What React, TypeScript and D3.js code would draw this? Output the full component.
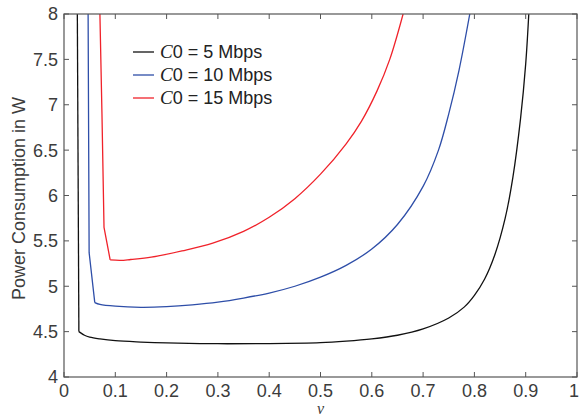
import React from "react";
import * as d3 from "d3";

const xTicks = [0, 0.1, 0.2, 0.3, 0.4, 0.5, 0.6, 0.7, 0.8, 0.9, 1];
const yTicks = [4, 4.5, 5, 5.5, 6, 6.5, 7, 7.5, 8];
const xTickLabels = ["0", "0.1", "0.2", "0.3", "0.4", "0.5", "0.6", "0.7", "0.8", "0.9", "1"];
const yTickLabels = ["4", "4.5", "5", "5.5", "6", "6.5", "7", "7.5", "8"];

const seriesNames = ["5 Mbps", "10 Mbps", "15 Mbps"];
const seriesColors = ["#111111", "#2e4ea8", "#f0222a"];

// steep left branch (drawn with straight segments) and smooth right branch
const blackSteep: [number, number][] = [[0.026, 8], [0.029, 4.5]];
const black: [number, number][] = [
  [0.029, 4.5], [0.04, 4.46], [0.05, 4.44], [0.07, 4.42], [0.1, 4.4],
  [0.15, 4.385], [0.2, 4.375], [0.3, 4.367], [0.4, 4.368], [0.5, 4.378], [0.55, 4.395],
  [0.6, 4.42], [0.65, 4.46], [0.7, 4.53], [0.75, 4.65], [0.78, 4.77], [0.8, 4.9],
  [0.82, 5.08], [0.84, 5.35], [0.86, 5.75], [0.875, 6.2], [0.89, 6.85], [0.9, 7.45],
  [0.906, 8],
];
const blueSteep: [number, number][] = [[0.047, 8], [0.049, 5.37], [0.06, 4.82]];
const blue: [number, number][] = [
  [0.06, 4.82], [0.07, 4.8], [0.1, 4.78], [0.15, 4.768],
  [0.2, 4.775], [0.25, 4.795], [0.3, 4.825], [0.35, 4.87], [0.4, 4.925], [0.45, 5.0],
  [0.5, 5.1], [0.55, 5.23], [0.6, 5.41], [0.65, 5.68], [0.7, 6.1], [0.73, 6.5],
  [0.75, 6.9], [0.77, 7.38], [0.791, 8],
];
const redSteep: [number, number][] = [[0.07, 8], [0.074, 6.9], [0.078, 5.65], [0.09, 5.29]];
const red: [number, number][] = [
  [0.09, 5.29], [0.11, 5.285], [0.13, 5.295],
  [0.17, 5.32], [0.23, 5.39], [0.29, 5.475], [0.35, 5.605], [0.4, 5.76], [0.45, 5.965],
  [0.5, 6.235], [0.55, 6.57], [0.58, 6.82], [0.61, 7.15], [0.635, 7.5], [0.661, 8],
];
const steepData = [blackSteep, blueSteep, redSteep];
const seriesData = [black, blue, red];

const W = 579;
const H = 418;
const M = { left: 64, right: 577, top: 14, bottom: 377 };

export default function App() {
  const x = d3.scaleLinear().domain([0, 1]).range([M.left, M.right]);
  const y = d3.scaleLinear().domain([4, 8]).range([M.bottom, M.top]);
  const smooth = d3
    .line<[number, number]>()
    .x((d) => x(d[0]))
    .y((d) => y(d[1]))
    .curve(d3.curveCatmullRom.alpha(0.5));
  const straight = d3
    .line<[number, number]>()
    .x((d) => x(d[0]))
    .y((d) => y(d[1]));

  const axisColor = "#555";
  const textColor = "#3c3c3c";
  const font = "'Liberation Sans', Arial, Helvetica, sans-serif";
  const tickLen = 5;

  return (
    <svg
      width={W}
      height={H}
      style={{ position: "absolute", left: 0, top: 0, background: "#fff" }}
    >
      <defs>
        <clipPath id="plotclip">
          <rect x={M.left} y={M.top} width={M.right - M.left} height={M.bottom - M.top} />
        </clipPath>
      </defs>
      <g clipPath="url(#plotclip)">
        {seriesData.map((s, i) => (
          <g key={i}>
            <path
              d={straight(steepData[i]) || ""}
              fill="none"
              stroke={seriesColors[i]}
              strokeWidth={1.3}
              strokeLinejoin="round"
            />
            <path
              d={smooth(s) || ""}
              fill="none"
              stroke={seriesColors[i]}
              strokeWidth={1.3}
              strokeLinejoin="round"
            />
          </g>
        ))}
      </g>
      <rect
        x={M.left}
        y={M.top}
        width={M.right - M.left}
        height={M.bottom - M.top}
        fill="none"
        stroke={axisColor}
        strokeWidth={1.2}
      />
      {xTicks.map((t, i) => (
        <g key={"x" + i}>
          <line x1={x(t)} x2={x(t)} y1={M.bottom} y2={M.bottom - tickLen} stroke={axisColor} strokeWidth={1} />
          <line x1={x(t)} x2={x(t)} y1={M.top} y2={M.top + tickLen} stroke={axisColor} strokeWidth={1} />
          <text
            x={i === xTicks.length - 1 ? x(t) - 3 : x(t)}
            y={397}
            textAnchor="middle"
            fontFamily={font}
            fontSize={18}
            fill={textColor}
          >
            {xTickLabels[i]}
          </text>
        </g>
      ))}
      {yTicks.map((t, i) => (
        <g key={"y" + i}>
          <line x1={M.left} x2={M.left + tickLen} y1={y(t)} y2={y(t)} stroke={axisColor} strokeWidth={1} />
          <line x1={M.right} x2={M.right - tickLen} y1={y(t)} y2={y(t)} stroke={axisColor} strokeWidth={1} />
          <text
            x={58}
            y={y(t)}
            dy="0.36em"
            textAnchor="end"
            fontFamily={font}
            fontSize={18}
            fill={textColor}
          >
            {yTickLabels[i]}
          </text>
        </g>
      ))}
      <text
        transform={`translate(25, ${(M.top + M.bottom) / 2 + 3}) rotate(-90)`}
        textAnchor="middle"
        fontFamily={font}
        fontSize={18}
        fill={textColor}
      >
        Power Consumption in W
      </text>
      <text
        x={(M.left + M.right) / 2}
        y={414}
        textAnchor="middle"
        fontFamily="'Liberation Serif', 'Times New Roman', serif"
        fontStyle="italic"
        fontSize={16}
        fill={textColor}
      >
        ν
      </text>
      {seriesNames.map((n, i) => {
        const cy = 52 + i * 23;
        return (
          <g key={"l" + i}>
            <line x1={133} x2={154} y1={cy} y2={cy} stroke={seriesColors[i]} strokeWidth={1.3} />
            <text x={160} y={cy} dy="0.36em" fontSize={18} fill="#222" fontFamily={font}>
              <tspan fontFamily="'Liberation Serif', 'Times New Roman', serif" fontStyle="italic" fontSize={19}>
                C
              </tspan>
              <tspan>{"0 = " + n}</tspan>
            </text>
          </g>
        );
      })}
    </svg>
  );
}
